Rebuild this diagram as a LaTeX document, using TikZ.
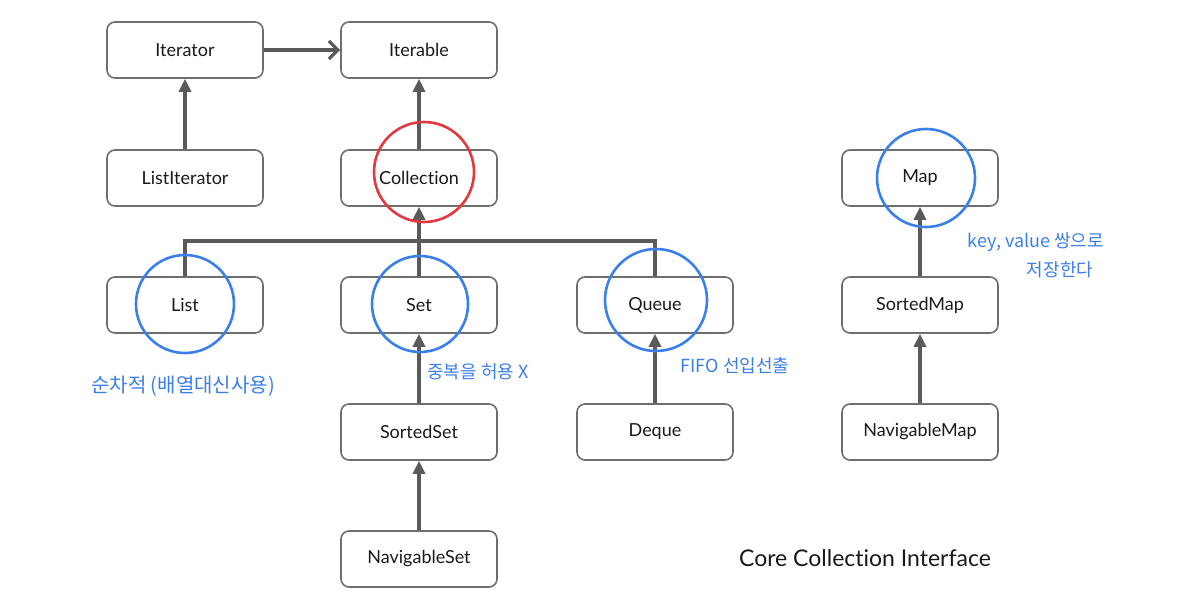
\documentclass[tikz,border=0pt]{standalone}
\usepackage{fontspec}
\setmainfont{Lato}[Ligatures={NoCommon,NoRare,NoDiscretionary}]
\newfontfamily\krfont{Noto Sans CJK KR}
\usetikzlibrary{arrows.meta}
\definecolor{boxgray}{HTML}{6E6E6E}
\definecolor{linegray}{HTML}{5A5A5A}
\definecolor{hblue}{HTML}{3B7FEA}
\definecolor{hred}{HTML}{E5373E}
\begin{document}
\begin{tikzpicture}[x=1pt,y=-1pt,
  cbox/.style={draw=boxgray,line width=1.6pt,rounded corners=8pt,minimum width=156pt,minimum height=56pt,inner sep=0pt,font=\fontsize{18}{21}\selectfont,text=black!90},
  conn/.style={draw=linegray,line width=3.6pt},
  tri/.style={conn,-{Triangle[length=13pt,width=12pt]}},
  opn/.style={conn,-{Straight Barb[length=9pt,width=18pt,line width=3.2pt]}},
  bcirc/.style={draw=hblue,line width=2.6pt},
  rcirc/.style={draw=hred,line width=2.6pt},
  note/.style={text=hblue,font=\krfont\fontsize{18}{22}\selectfont,inner sep=0pt}]
\useasboundingbox (0,0) rectangle (1198,606);
\node[cbox] (iterator) at (185,50) {Iterator};
\node[cbox] (iterable) at (419,50) {Iterable};
\node[cbox] (listit) at (185,178) {ListIterator};
\node[cbox] (coll) at (419,178) {Collection};
\node[cbox] (list) at (185,305) {List};
\node[cbox] (set) at (419,305) {Set};
\node[cbox] (queue) at (655,305) {Queue};
\node[cbox] (sset) at (419,432) {SortedSet};
\node[cbox] (deque) at (655,432) {Deque};
\node[cbox] (nset) at (419,559) {NavigableSet};
\node[cbox] (map) at (920,178) {Map};
\node[cbox] (smap) at (920,305) {SortedMap};
\node[cbox] (nmap) at (920,432) {NavigableMap};
\node[font=\fontsize{23}{26}\selectfont,text=black!90] (title) at (865,558) {Core Collection Interface};
\coordinate (busL) at (185,241);
\coordinate (busR) at (655,241);
\draw[opn] (iterator.east) -- (iterable.west);
\draw[tri] (listit.north) -- (iterator.south);
\draw[tri] (coll.north) -- (iterable.south);
\draw[tri] (set.north) -- (coll.south);
\draw[conn] (list.north) -- (busL) -- (busR) -- (queue.north);
\draw[tri] (sset.north) -- (set.south);
\draw[tri] (nset.north) -- (sset.south);
\draw[tri] (deque.north) -- (queue.south);
\draw[tri] (smap.north) -- (map.south);
\draw[tri] (nmap.north) -- (smap.south);
\draw[rcirc] (424,172) circle (50);
\draw[bcirc] (185,304) circle (49);
\draw[bcirc] (420,304) circle (48);
\draw[bcirc] (656,300) circle (51);
\draw[bcirc] (926,178) circle (49);
\node[note,font=\krfont\fontsize{20}{24}\selectfont] (n1) at (183,386) {순차적 (배열대신사용)};
\node[note] (n2) at (478,372) {중복을 허용 X};
\node[note] (n3) at (735,366) {FIFO 선입선출};
\node[note] (n4) at (1036,242) {key, value 쌍으로};
\node[note] (n5) at (1060,270) {저장한다};
\end{tikzpicture}
\end{document}
